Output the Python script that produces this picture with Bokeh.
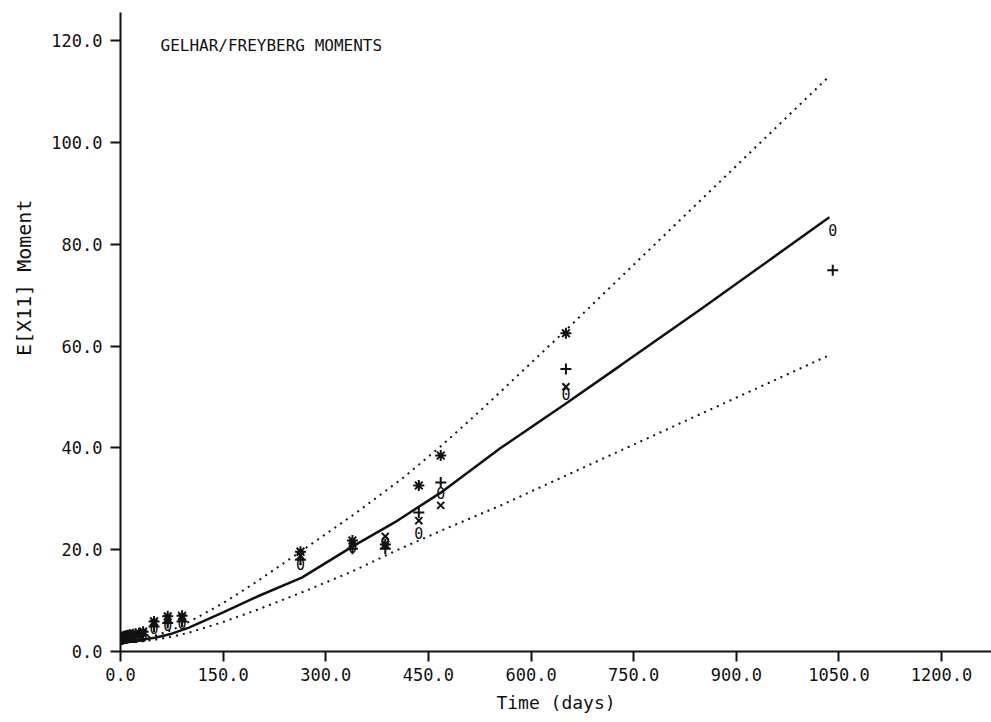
from bokeh.plotting import figure
from bokeh.models import Range1d, FixedTicker, NumeralTickFormatter, Label
from bokeh.core.properties import value
from bokeh.embed import file_html
from bokeh.resources import INLINE

nan = float("nan")

# Observation times (days) and the four measured moment series
obs_days = [2, 5, 8, 11, 14, 18, 22, 27, 33, 49, 69, 90,
            263, 339, 387, 436, 468, 651, 1041]
star_vals = [2.8, 3.0, 3.1, 3.2, 3.3, 3.4, 3.5, 3.6, 3.9, 5.9, 6.9, 7.0,
             19.6, 21.8, 21.0, 32.6, 38.5, 62.5, nan]
plus_vals = [2.6, 2.7, 2.8, 2.9, 2.9, 3.0, 3.0, 3.1, 3.2, 4.9, 5.6, 5.9,
             18.0, 20.2, 20.2, 27.3, 33.2, 55.5, 74.9]
x_vals = [2.7, 2.9, 3.0, 3.1, 3.2, 3.3, 3.3, 3.4, 3.6, 5.5, 6.4, 6.6,
          18.8, 21.2, 22.6, 25.7, 28.7, 52.0, nan]
o_vals = [2.5, 2.6, 2.7, 2.8, 2.8, 2.9, 2.9, 3.0, 3.1, 4.6, 5.3, 5.6,
          17.2, 20.6, 21.6, 23.2, 31.2, 50.5, 82.7]

# Predicted mean moment and its upper / lower bounds
mean_days = [0, 25, 50, 75, 100, 150, 200, 265, 340, 400, 468, 556, 650, 731, 848, 1036]
mean_vals = [1.9, 2.2, 2.7, 3.5, 4.7, 7.7, 10.8, 14.5, 20.7, 25.3, 31.2, 40.0, 48.6, 56.2, 67.2, 85.3]
upper_days = [0, 25, 50, 75, 100, 150, 200, 263, 340, 414, 468, 526, 650, 1036]
upper_vals = [2.0, 2.4, 3.1, 4.2, 5.8, 9.5, 13.8, 19.6, 26.8, 34.2, 40.3, 47.3, 63.0, 113.0]
lower_days = [0, 25, 50, 75, 100, 150, 200, 265, 340, 409, 470, 556, 650, 1036]
lower_vals = [1.7, 1.9, 2.3, 2.9, 3.7, 5.8, 8.2, 11.6, 15.8, 20.2, 23.8, 28.7, 34.5, 58.2]

x_ticks = [0, 150, 300, 450, 600, 750, 900, 1050, 1200]
y_ticks = [0, 20, 40, 60, 80, 100, 120]

FONT = "DejaVu Sans Mono"
INK = "#111111"

p = figure(width=991, height=722, output_backend="svg", toolbar_location=None,
           x_range=Range1d(0, 1273), y_range=Range1d(0, 125.5),
           min_border_left=120, min_border_right=0, min_border_top=12,
           min_border_bottom=71)
p.outline_line_color = None
p.xgrid.visible = False
p.ygrid.visible = False
p.background_fill_color = "white"
p.border_fill_color = "white"

for ax in (p.xaxis[0], p.yaxis[0]):
    ax.axis_line_width = 2
    ax.axis_line_color = INK
    ax.major_tick_line_width = 2
    ax.major_tick_line_color = INK
    ax.major_tick_in = 0
    ax.major_tick_out = 10
    ax.minor_tick_line_color = None
    ax.major_label_text_font = FONT
    ax.major_label_text_font_size = "17px"
    ax.major_label_text_color = INK
    ax.axis_label_text_font = FONT
    ax.axis_label_text_font_size = "18px"
    ax.axis_label_text_font_style = "normal"
    ax.axis_label_text_color = INK
    ax.formatter = NumeralTickFormatter(format="0.0")

p.xaxis.ticker = FixedTicker(ticks=x_ticks)
p.yaxis.ticker = FixedTicker(ticks=y_ticks)
p.xaxis.axis_label = "Time (days)"
p.xaxis.axis_label_standoff = 8
p.xaxis.major_label_standoff = 6
p.yaxis.major_label_standoff = 8

# vertical caption sits above the frame's middle: pad its start with no-break spaces
p.yaxis.axis_label = "\u00a0" * 9 + "E[X11] Moment"
p.yaxis.axis_label_text_font_size = "20px"
p.yaxis.axis_label_standoff = 12

# model curves
p.line(mean_days, mean_vals, line_color=INK, line_width=2.5)
p.line(upper_days, upper_vals, line_color=INK, line_width=2, line_dash="2 5")
p.line(lower_days, lower_vals, line_color=INK, line_width=2, line_dash="2 5")

# observed moments
p.scatter(obs_days, star_vals, marker="asterisk", size=11, line_color=INK, line_width=2)
p.scatter(obs_days, plus_vals, marker="cross", size=11, line_color=INK, line_width=2)
p.scatter(obs_days, x_vals, marker="x", size=10, line_color=INK, line_width=2)
p.text(obs_days, o_vals, text=value("0"), text_font=value(FONT), text_font_size="15px",
       text_align="center", text_baseline="middle", text_color=INK)

# title, placed in screen units from the frame's corner
p.add_layout(Label(x=40, y=606, x_units="screen", y_units="screen",
                   text="GELHAR/FREYBERG MOMENTS", text_font=FONT,
                   text_font_size="16px", text_color=INK, text_baseline="middle"))

open("out.html", "w").write(file_html(p, INLINE))
